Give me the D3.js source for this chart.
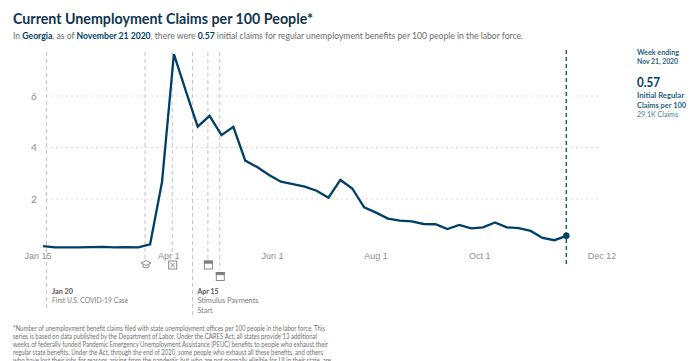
<!DOCTYPE html>
<html><head><meta charset="utf-8">
<script src="https://cdn.jsdelivr.net/npm/d3@7/dist/d3.min.js"></script>
<style>html,body{margin:0;padding:0;background:#fff;overflow:hidden}svg{display:block;font-family:Lato,"Noto Sans",sans-serif}</style>
</head><body><svg id="c" width="700" height="361"></svg>
<script>
const firstWeek = "2020-01-18";
const claims = [0.17,0.12,0.12,0.12,0.13,0.14,0.12,0.13,0.12,0.24,2.66,7.63,6.2,4.81,5.23,4.48,4.8,3.49,3.24,2.93,2.67,2.58,2.48,2.32,2.05,2.74,2.41,1.68,1.47,1.24,1.16,1.13,1.03,1.02,0.83,0.99,0.86,0.9,1.09,0.9,0.87,0.76,0.49,0.4,0.57];
const yTicks = [2,4,6];
const xTickDates = ["2020-01-15","2020-04-01","2020-06-01","2020-08-01","2020-10-01","2020-12-12"];
const xTickLabels = ["Jan 15","Apr 1","Jun 1","Aug 1","Oct 1","Dec 12"];
const eventDates = ["2020-01-20","2020-03-18","2020-04-03","2020-04-15","2020-04-24","2020-05-01"];
const eventEnds = [308,260,256,316,260,270];
const eventIcons = ["","cap","box","","cal","cal"];
const footnote = [
"*Number of unemployment benefit claims filed with state unemployment offices per 100 people in the labor force. This",
"series is based on data published by the Department of Labor. Under the CARES Act, all states provide 13 additional",
"weeks of federally funded Pandemic Emergency Unemployment Assistance (PEUC) benefits to people who exhaust their",
"regular state benefits. Under the Act, through the end of 2020, some people who exhaust all these benefits, and others",
"who have lost their jobs for reasons arising from the pandemic but who are not normally eligible for UI in their state, are"];
const footWidths = [312,304,315,310,318];
const navy="#003f66", teal="#1f5f7f", gray="#6b6b6b";
const parse=d3.utcParse("%Y-%m-%d");
const svg=d3.select("#c");
const x=d3.scaleUtc().domain([parse(xTickDates[0]),parse(xTickDates[5])]).range([38,602]);
const y=d3.scaleLinear().domain([0,6]).range([250.5,96]);
const t0=parse(firstWeek);
const series=claims.map((v,i)=>({d:d3.utcDay.offset(t0,i*7),v}));
const last=series[series.length-1];

const txt=(s,px,py,size,fill,weight,anchor,len)=>{
 const t=svg.append("text").attr("x",px).attr("y",py).attr("font-size",size).attr("fill",fill).attr("font-weight",weight||400).attr("text-anchor",anchor||"start").text(s);
 if(len) t.attr("textLength",len).attr("lengthAdjust","spacingAndGlyphs");
 return t;
};

// title
txt("Current Unemployment Claims per 100 People*",13,24,15.5,"#10354e",700,"start",300);
const sub=svg.append("text").attr("transform","translate(13,38.5) scale(0.896,1)").attr("font-size",9.6).attr("fill",gray);
[["In ",0],["Georgia",1],[", as of ",0],["November 21 2020",1],[", there were ",0],["0.57",1],[" initial claims for regular unemployment benefits per 100 people in the labor force.",0]]
 .forEach(([s,b])=>sub.append("tspan").attr("font-weight",b?700:400).attr("fill",b?navy:gray).text(s));

// grid
yTicks.forEach(t=>svg.append("line").attr("x1",46).attr("x2",600).attr("y1",y(t)).attr("y2",y(t)).attr("stroke","#dcdcdc").attr("stroke-width",1).attr("stroke-dasharray","2,3"));
yTicks.forEach(t=>txt(t,34,y(t)+3.5,10,"#8a8a8a",400,"middle"));

// events
eventDates.forEach((d,i)=>svg.append("line").attr("x1",x(parse(d))).attr("x2",x(parse(d))).attr("y1",52).attr("y2",eventEnds[i]).attr("stroke","#c4c4c4").attr("stroke-width",1).attr("stroke-dasharray","4,3"));

// x axis labels
xTickDates.forEach((d,i)=>txt(xTickLabels[i],x(parse(d)),258.5,9,"#8f8f8f",400,"middle").attr("font-family","Liberation Sans"));

// icons
const iconY=[0,264.5,265,0,265,276.5];
eventDates.forEach((d,i)=>{
 const k=eventIcons[i]; if(!k) return;
 const g=svg.append("g").attr("transform",`translate(${x(parse(d))+(k==="cap"?1:0.5)},${iconY[i]})`).attr("fill","none").attr("stroke","#7d7d7d").attr("stroke-width",0.9);
 if(k==="cap"){g.append("path").attr("d","M-5,-1.5L0,-4L5,-1.5L0,1Z");g.append("path").attr("d","M-3,0V2.5Q0,4.5 3,2.5V0");}
 if(k==="box"){g.append("rect").attr("x",-4).attr("y",-4).attr("width",8).attr("height",8);g.append("path").attr("d","M-2,-2L2,2M2,-2L-2,2");}
 if(k==="cal"){g.append("rect").attr("x",-4).attr("y",-4).attr("width",8).attr("height",8);g.append("rect").attr("x",-4).attr("y",-4).attr("width",8).attr("height",2.2).attr("fill","#7d7d7d");}
});

// event notes
txt("Jan 20",52,293.5,8,"#555",700,"start",21);
txt("First U.S. COVID-19 Case",52,303,8,"#7a7a7a",400,"start",76);
txt("Apr 15",197.5,293.5,8,"#555",700,"start",21);
txt("Stimulus Payments",197.5,303,8,"#7a7a7a",400,"start",61);
txt("Start",197.5,312.5,8,"#7a7a7a",400,"start",15);

// current marker
svg.append("line").attr("x1",x(last.d)).attr("x2",x(last.d)).attr("y1",50).attr("y2",267).attr("stroke",teal).attr("stroke-width",1.5).attr("stroke-dasharray","4,3");

// line
svg.append("path").datum(series).attr("fill","none").attr("stroke",navy).attr("stroke-width",2.3)
 .attr("d",d3.line().x(d=>x(d.d)).y(d=>y(d.v)));
svg.append("circle").attr("cx",x(last.d)).attr("cy",y(last.v)).attr("r",3.2).attr("fill",navy);

// side panel
txt("Week ending",637,55,7.8,teal,700,"start",42);
txt("Nov 21, 2020",637,64,7.8,teal,700,"start",41);
txt("0.57",637,87,13,navy,700,"start",23);
txt("Initial Regular",637,98,7.8,teal,700,"start",47);
txt("Claims per 100",637,108,7.8,teal,700,"start",49);
txt("29.1K Claims",637,117,7.8,"#4d7f99",400,"start",41);

// footnote
footnote.forEach((s,i)=>txt(s,13,331+i*8.05,6.8,"#6f6f6f",400,"start",footWidths[i]));
</script></body></html>
